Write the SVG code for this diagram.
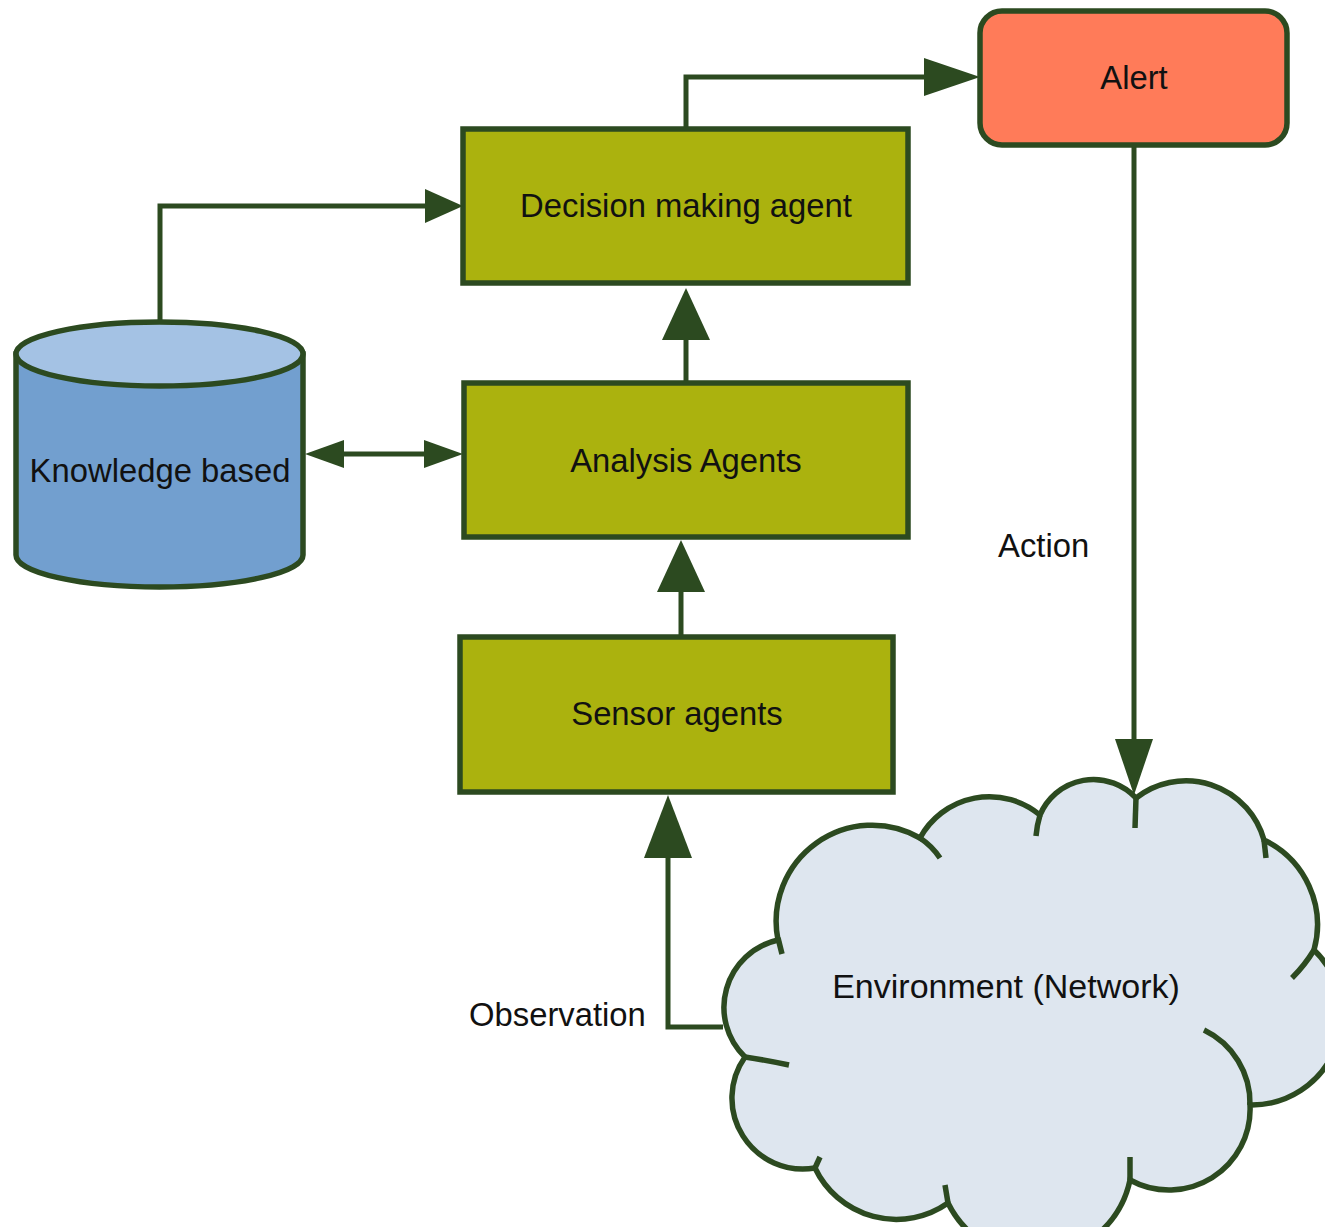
<svg xmlns="http://www.w3.org/2000/svg" width="1325" height="1227" viewBox="0 0 1325 1227">
<style>
.box{fill:#abb20e;stroke:#2c4a20;stroke-width:5.5}
.edge{fill:none;stroke:#2c4a20;stroke-width:5}
.lbl{font-family:"Liberation Sans",Arial,sans-serif;font-size:32.8px;fill:#111}
.ah{fill:#2c4a20}
.ol{stroke:#2c4a20;stroke-width:5.5}
</style>
<defs>
<marker id="mBig" markerUnits="userSpaceOnUse" orient="auto" refX="0" refY="0" markerWidth="60" markerHeight="60" overflow="visible"><path class="ah" d="M0,-24 L52,0 L0,24 Z"/></marker>
<marker id="mObs" markerUnits="userSpaceOnUse" orient="auto" refX="0" refY="0" markerWidth="70" markerHeight="60" overflow="visible"><path class="ah" d="M0,-24 L63,0 L0,24 Z"/></marker>
<marker id="mMed" markerUnits="userSpaceOnUse" orient="auto" refX="0" refY="0" markerWidth="60" markerHeight="50" overflow="visible"><path class="ah" d="M0,-19 L56,0 L0,19 Z"/></marker>
<marker id="mKb" markerUnits="userSpaceOnUse" orient="auto" refX="0" refY="0" markerWidth="50" markerHeight="50" overflow="visible"><path class="ah" d="M0,-17 L38,0 L0,17 Z"/></marker>
<marker id="mSm" markerUnits="userSpaceOnUse" orient="auto-start-reverse" refX="0" refY="0" markerWidth="50" markerHeight="40" overflow="visible"><path class="ah" d="M0,-14 L39,0 L0,14 Z"/></marker>
</defs>
<rect width="1325" height="1227" fill="#ffffff"/>

<g id="connectors">
<path class="edge" d="M160,322 V206 H425" marker-end="url(#mKb)"/>
<path class="edge" d="M686,129 V77 H924" marker-end="url(#mMed)"/>
<path class="edge" d="M1134,145 V739" marker-end="url(#mMed)"/>
<path class="edge" d="M686,383 V340" marker-end="url(#mBig)"/>
<path class="edge" d="M681,637 V592" marker-end="url(#mBig)"/>
<path class="edge" d="M723,1027 H668 V858" marker-end="url(#mObs)"/>
<path class="edge" d="M344,454 H424" marker-start="url(#mSm)" marker-end="url(#mSm)"/>
<text class="lbl" x="998" y="557">Action</text>
<text class="lbl" x="469" y="1026">Observation</text>
</g>

<g id="decision">
<rect class="box" x="463" y="129" width="445" height="154"/>
<text class="lbl" x="686" y="217" text-anchor="middle">Decision making agent</text>
</g>

<g id="alert">
<rect x="980" y="11" width="307" height="134" rx="22" fill="#ff7b59" stroke="#2c4a20" stroke-width="5.5"/>
<text class="lbl" x="1134" y="89" text-anchor="middle">Alert</text>
</g>

<g id="analysis">
<rect class="box" x="464" y="383" width="444" height="154"/>
<text class="lbl" x="686" y="472" text-anchor="middle">Analysis Agents</text>
</g>

<g id="sensor">
<rect class="box" x="460" y="637" width="433" height="155"/>
<text class="lbl" x="677" y="725" text-anchor="middle">Sensor agents</text>
</g>

<g id="knowledge">
<path d="M16,354 L16,555 A143.5,32 0 0 0 303,555 L303,354 Z" fill="#729fcf" stroke="#2c4a20" stroke-width="5.5"/>
<ellipse cx="159.5" cy="354" rx="143.5" ry="32" fill="#a4c2e4" stroke="#2c4a20" stroke-width="5.5"/>
<text class="lbl" x="160" y="482" text-anchor="middle">Knowledge based</text>
</g>

<g id="environment">
<path d="M778,940 A96,96 0 0 1 920,838 A79,79 0 0 1 1040,815 A58,58 0 0 1 1136,798 A81,81 0 0 1 1264,840 A94,94 0 0 1 1314,950 A90,90 0 0 1 1250,1105 A81,81 0 0 1 1130,1180 A97,97 0 0 1 948,1203 A90,90 0 0 1 815,1168 A71,71 0 0 1 745,1057 A69,69 0 0 1 778,940 Z" fill="#dee6ef" stroke="#2c4a20" stroke-width="5.5"/>
<g fill="none" class="ol">
<path d="M778,938 L782,954"/>
<path d="M920,838 Q932,846 940,858"/>
<path d="M1040,815 Q1037,825 1036,836"/>
<path d="M1136,798 L1135,828"/>
<path d="M1264,840 L1266,858"/>
<path d="M1314,950 Q1305,965 1292,978"/>
<path d="M1204,1030 A81,81 0 0 1 1250,1105"/>
<path d="M1130,1180 L1130,1157"/>
<path d="M948,1203 L945,1185"/>
<path d="M815,1168 L820,1157"/>
<path d="M745,1057 Q765,1060 789,1065"/>
</g>
<text class="lbl" x="1006" y="998" text-anchor="middle" style="font-size:34px">Environment (Network)</text>
</g>
</svg>
